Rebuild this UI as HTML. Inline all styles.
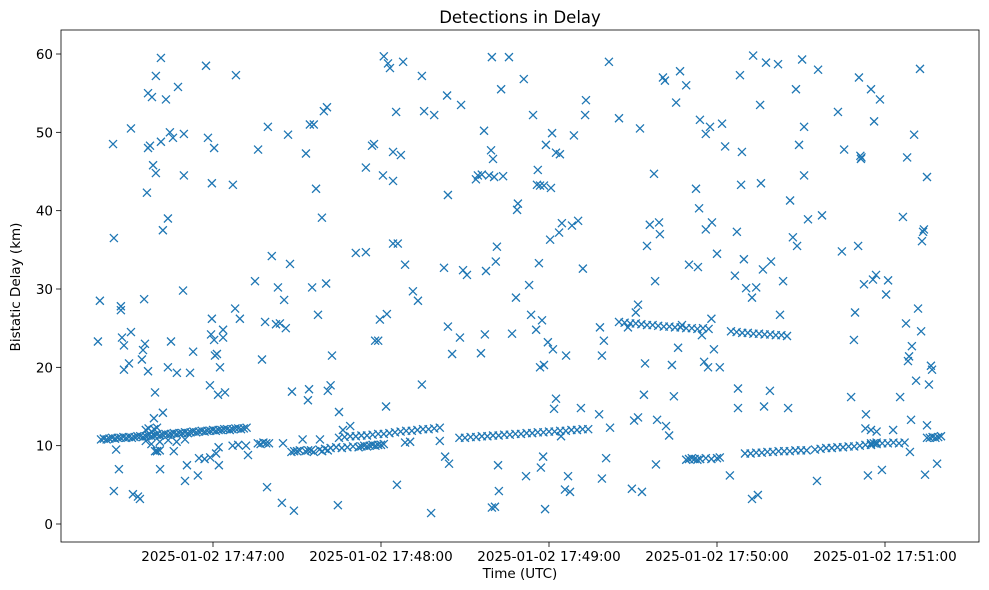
<!DOCTYPE html>
<html><head><meta charset="utf-8"><style>
body{margin:0;background:#fff;}
svg{display:block;font-family:"DejaVu Sans","Liberation Sans",sans-serif;}
</style></head><body>
<svg id="chart" width="989" height="590">
<rect x="0" y="0" width="989" height="590" fill="#fff"/>
<text x="520" y="23" text-anchor="middle" font-size="16.5">Detections in Delay</text>
<text x="520" y="578" text-anchor="middle" font-size="13.5">Time (UTC)</text>
<text x="0" y="0" transform="translate(20,287) rotate(-90)" text-anchor="middle" font-size="13.5">Bistatic Delay (km)</text>
<g id="marks"></g>
<g id="axes"></g>
<rect x="61" y="30" width="918" height="512" fill="none" stroke="#000" stroke-width="0.8"/>
</svg>
<script>
// seconds after 17:46:00 UTC
const xTickSeconds = [60,120,180,240,300];
const xTickLabels = ["2025-01-02 17:47:00","2025-01-02 17:48:00","2025-01-02 17:49:00","2025-01-02 17:50:00","2025-01-02 17:51:00"];
const yTickValues = [0,10,20,30,40,50,60];
const trackDetections = [
[20,10.8],[21,10.9],[22,10.8],[23,10.9],[24,11.0],[25,10.9],[26,11.0],[27,11.0],[28,11.1],[29,11.0],[30,11.1],[31,11.0],[32,11.1],[33,11.2],[34,11.2],[35,11.1],[36,11.2],[37,11.3],[38,11.2],[39,11.3],[40,11.4],[41,11.3],[42,11.4],[43,11.5],[44,11.4],[45,11.5],[46,11.6],[47,11.5],[48,11.6],[49,11.6],[50,11.7],[51,11.6],[52,11.7],[53,11.8],[54,11.7],[55,11.8],[56,11.9],[57,11.8],[58,11.9],[59,11.9],[60,12.0],[61,11.9],[62,12.0],[63,12.0],[64,12.1],[65,12.1],[66,12.0],[67,12.1],[68,12.2],[69,12.2],[70,12.1],[71,12.2],[72,12.3],
[36,12.0],[37,12.2],[38,11.8],[39,12.1],[40,12.3],[36,10.6],[38,10.2],[41,10.5],[44,10.7],[47,10.5],[50,10.8],[40,9.3],[41,9.4],[46,9.3],[55,8.4],[57,8.3],[59,8.5],[62,9.8],[67,10.0],[69,10.1],
[76,10.3],[77,10.2],[78,10.4],[79,10.3],[80,10.3],[85,10.3],[92,10.8],
[88,9.2],[89,9.3],[90,9.3],[91,9.4],[93,9.3],[94,9.4],[95,9.4],[96,9.2],[98,9.5],[99,9.3],[100,9.6],[101,9.4],
[102,9.7],[104,9.8],[106,9.7],[108,9.8],[110,9.9],[112,9.8],[113,9.9],[114,10.0],[115,9.9],[116,10.0],[117,10.1],[118,10.0],[119,10.1],[120,10.1],[121,10.2],
[105,11.0],[107,11.1],[109,11.2],[111,11.2],[113,11.3],[115,11.3],[117,11.4],[119,11.5],[121,11.5],[123,11.6],[125,11.7],[127,11.8],[129,11.9],[131,11.9],[133,12.0],[135,12.1],[137,12.1],[139,12.2],[141,12.3],
[148,11.0],[150,11.0],[152,11.1],[154,11.1],[156,11.2],[158,11.2],[160,11.3],[162,11.3],[164,11.4],[166,11.4],[168,11.5],[170,11.5],[172,11.6],[174,11.6],[176,11.7],[178,11.7],[180,11.8],[182,11.8],[184,11.9],[186,11.9],[188,12.0],[190,12.0],[192,12.1],[194,12.1],
[205,25.8],[207,25.7],[209,25.6],[211,25.6],[213,25.5],[215,25.4],[217,25.4],[219,25.3],[221,25.2],[223,25.2],[225,25.1],[227,25.1],[229,25.0],[231,25.0],[233,24.9],[235,25.0],[237,24.9],[238,26.2],
[245,24.6],[247,24.5],[249,24.4],[251,24.4],[253,24.3],[255,24.3],[257,24.2],[259,24.2],[261,24.1],[263,24.1],[265,24.0],
[229,8.2],[230,8.3],[231,8.4],[232,8.3],[233,8.2],[234,8.3],[236,8.4],[238,8.3],[240,8.4],[241,8.5],
[250,9.0],[252,9.0],[254,9.1],[256,9.1],[258,9.2],[260,9.2],[262,9.3],[264,9.3],[266,9.3],[268,9.4],[270,9.4],[272,9.4],
[275,9.5],[277,9.6],[279,9.7],[281,9.7],[283,9.8],[285,9.8],[287,9.9],[289,9.9],[291,10.0],[293,10.1],[295,10.1],[297,10.2],
[295,10.3],[297,10.4],[299,10.3],[301,10.3],[303,10.4],[305,10.3],[307,10.4],[293,12.2],[295,12.0],[297,11.8],[296,10.3],
[315,11.0],[316,11.0],[317,11.1],[318,11.0],[319,11.1],[320,11.2]
];
const scatterDetections = [
[18.9,23.3],[19.6,28.5],[24.3,48.5],[24.6,36.5],[24.6,4.2],[25.4,9.5],[26.4,7],[27.1,27.8],[27.1,27.3],[27.5,23.8],[28.2,19.7],[28.2,22.8],[30,20.5],[30.7,50.5],[30.7,24.5],[31.4,3.8],[33.2,3.5],[33.9,3.2],[34.6,21],[35,22.2],[35.4,28.7],[35.7,23],[36.4,42.3],[36.8,19.5],[36.8,55],[36.8,48],[37.5,48.3],[38.2,54.5],[38.6,45.8],[38.9,13.5],[39.3,9.3],[39.3,16.8],[39.6,57.2],[39.6,44.8],[40,9.3],[41.1,7],[41.4,48.8],[41.4,59.5],[42.1,37.5],[42.1,14.2],[43.2,54.2],[43.9,39],[43.9,20],[44.6,50],[45,23.3],[45.7,49.3],[47.1,19.3],[47.5,55.8],[49.3,29.8],[49.6,44.5],[49.6,49.8],[50,5.5],[50.7,7.5],[51.8,19.3],[52.9,22],[54.6,6.2],[57.5,58.5],[58.2,49.3],[58.9,17.7],[59.3,24.2],[59.6,26.2],[59.6,43.5],[60.4,48],[60.4,23.5],[60.7,21.5],[61.1,9],[61.4,21.7],[61.8,16.5],[62.1,7.5],[62.5,20],[63.6,23.8],[63.6,24.8],[64.3,16.8],[67.1,43.3],[67.9,27.5],[68.2,57.3],[69.6,26.2],[71.8,10],[72.5,8.8],
[75,31],[76.1,47.8],[77.5,21],[78.6,25.8],[79.3,4.7],[79.6,50.7],[81,34.2],[82.5,25.5],[83.2,30.2],[83.9,25.6],[84.6,2.7],[85.4,28.6],[86,25],[86.8,49.7],[87.5,33.2],[88.2,16.9],[88.9,1.7],[93.2,47.3],[93.9,15.8],[94.3,17.2],[94.6,51],[95.4,30.2],[96,51],[96.8,42.8],[97.5,26.7],[98.2,10.8],[98.9,39.1],[99.6,52.7],[100.4,30.7],[100.7,53.2],[101,17],[102,17.7],[102.5,21.5],[104.6,2.4],[105,14.3],[106.4,12],[109,12.5],[111,34.6],[114.6,34.7],[114.6,45.5],[116.8,48.3],[117.5,48.5],[117.9,23.4],[119,23.4],[119.6,26.1],[120.7,44.5],[121,59.7],[121.8,15],[122.1,26.8],[122.5,58.8],[123.2,58.2],[124.3,43.8],[124.3,35.8],[124.3,47.5],[125.4,52.6],[125.7,5],[126,35.8],[127.1,47.1],[127.9,59],[128.6,33.1],[128.6,10.4],[130.4,10.5],[131.4,29.7],[133.2,28.5],[134.6,17.8],[134.6,57.2],[135.4,52.7],[137.9,1.4],[139,52.2],[141,10.6],[142.5,32.7],[142.9,8.6],[143.6,54.7],[143.9,25.2],[144.3,7.7],[145.4,21.7],[143.9,42],[148.2,23.8],[148.6,53.5],[149.3,32.4],[150.7,31.8],
[153.9,44],[154.6,44.5],[155.7,21.8],[156,44.6],[156.8,50.2],[157.1,24.2],[157.5,32.3],[158.6,44.5],[159.3,47.7],[159.6,59.6],[159.6,2.1],[160,46.6],[160.4,44.3],[160.7,2.2],[161,33.5],[161.4,35.4],[161.8,7.5],[162.1,4.2],[162.9,55.5],[163.6,44.4],[165.7,59.6],[166.8,24.3],[168.2,28.9],[168.6,40.1],[168.9,40.9],[171,56.8],[171.8,6.1],[172.9,30.5],[173.6,26.7],[174.3,52.2],[175.4,24.8],[175.7,43.3],[176,45.2],[176.4,33.3],[176.8,20],[176.8,43.2],[177.1,7.2],[177.5,26],[177.9,8.6],[178.2,43.2],[178.2,20.3],[178.6,1.9],[178.9,48.4],[179.6,23.2],[180.4,36.3],[180.7,42.9],[181.1,49.9],[181.4,22.3],[181.8,14.7],[182.5,16],[182.5,47.4],[183.6,37.2],[183.9,47.2],[184.3,11.2],[184.6,38.4],[185.7,4.4],[186.1,21.5],[186.8,6.1],[187.5,4.1],[188.2,38.1],[188.9,49.6],[190.4,38.7],[191.4,14.8],[192.1,32.6],[192.9,52.2],[193.2,54.1],[197.9,14],[198.2,25.1],[198.9,21.5],[198.9,5.8],[199.6,23.4],[200.4,8.4],[201.4,59],[201.8,12.3],[205,51.8],[208.2,25.1],[209.6,4.5],
[210.4,13.2],[211,27],[211.8,13.6],[211.8,28],[212.5,50.5],[213.2,4.1],[213.9,16.5],[214.3,20.5],[215,35.5],[216,38.2],[217.5,44.7],[217.9,31],[218.2,7.6],[218.6,13.3],[219.3,38.5],[219.6,37],[220.7,57],[221.4,56.6],[221.8,12.5],[222.9,11.3],[223.9,20.3],[224.6,16.3],[225.4,53.8],[226.1,22.5],[226.8,57.8],[227.5,25.4],[229,56],[230,33.1],[232.5,42.8],[233.2,32.8],[233.6,40.3],[233.9,51.6],[234.6,24.1],[235.4,20.7],[236,37.6],[236,49.8],[236.8,20],[237.5,50.7],[238.2,38.5],[238.9,22.3],[240,34.5],[241,20],[241.8,51.1],[242.9,48.2],[244.6,6.2],[246.4,31.7],[247.1,37.3],[247.5,17.3],[247.5,14.8],[248.2,57.3],[248.6,43.3],[248.9,47.5],[249.6,33.8],[250.4,30.1],[252.5,28.9],[252.5,3.2],[252.9,59.8],[254,30.2],[254.6,3.7],[255.4,53.5],[255.7,43.5],[256.4,32.5],[256.8,15],[257.5,58.9],[258.9,17],[259.3,33.5],[261.8,58.7],[262.5,26.7],[263.6,31],[265.4,14.8],[266.1,41.3],[267.1,36.6],[268.2,55.5],[268.6,35.5],[269.3,48.4],
[270.4,59.3],[271.1,44.5],[271.1,50.7],[272.5,38.9],[275.7,5.5],[276.1,58],[277.5,39.4],[283.2,52.6],[284.6,34.8],[285.4,47.8],[287.9,16.2],[288.9,23.5],[289.3,27],[290.4,35.5],[290.7,57],[291.4,46.6],[291.6,46.8],[291.2,47],[292.5,30.6],[293.2,14],[293.9,6.2],[295,55.5],[295.7,31.2],[296.1,51.4],[296.8,31.8],[298.2,54.2],[298.9,6.9],[300.4,29.3],[301.1,31.1],[302.9,12],[305.4,16.2],[306.4,39.2],[307.5,25.6],[307.9,46.8],[308.2,20.8],[308.6,21.4],[308.9,9.2],[309.3,13.3],[309.6,22.7],[310.4,49.7],[311.1,18.3],[311.8,27.5],[312.5,58.1],[312.9,24.6],[313.2,36.1],[313.6,37.3],[313.9,37.6],[314.3,6.3],[315,44.3],[315,12.6],[315.7,17.8],[316.4,20.2],[316.8,19.7],[318.6,7.7]
];
const NS="http://www.w3.org/2000/svg";
const xScale = t => 45 + 2.8*t;
const yScale = v => 524 - 7.8333*v;
const marks=document.getElementById('marks');
const axes=document.getElementById('axes');
function drawPoint(p){
  const x=xScale(p[0]), y=yScale(p[1]), s=4;
  const path=document.createElementNS(NS,'path');
  path.setAttribute('d',`M${x-s},${y-s}L${x+s},${y+s}M${x-s},${y+s}L${x+s},${y-s}`);
  path.setAttribute('stroke','#1f77b4');
  path.setAttribute('stroke-width','1.3');
  path.setAttribute('fill','none');
  
  
  marks.appendChild(path);
}
trackDetections.forEach(drawPoint);
scatterDetections.forEach(drawPoint);
xTickSeconds.forEach((t,i)=>{
  const x=xScale(t);
  const l=document.createElementNS(NS,'line');
  l.setAttribute('x1',x);l.setAttribute('x2',x);l.setAttribute('y1',542);l.setAttribute('y2',547);
  l.setAttribute('stroke','#000');l.setAttribute('stroke-width','0.8');
  
  
  axes.appendChild(l);
  const tx=document.createElementNS(NS,'text');
  tx.setAttribute('x',x);tx.setAttribute('y',561);tx.setAttribute('text-anchor','middle');tx.setAttribute('font-size','13.5');
  tx.textContent=xTickLabels[i];
  
  
  axes.appendChild(tx);
});
yTickValues.forEach(v=>{
  const y=yScale(v);
  const l=document.createElementNS(NS,'line');
  l.setAttribute('x1',56);l.setAttribute('x2',61);l.setAttribute('y1',y);l.setAttribute('y2',y);
  l.setAttribute('stroke','#000');l.setAttribute('stroke-width','0.8');
  
  
  axes.appendChild(l);
  const tx=document.createElementNS(NS,'text');
  tx.setAttribute('x',53);tx.setAttribute('y',y+5);tx.setAttribute('text-anchor','end');tx.setAttribute('font-size','13.5');
  tx.textContent=String(v);
  
  
  axes.appendChild(tx);
});
</script>
</body></html>
